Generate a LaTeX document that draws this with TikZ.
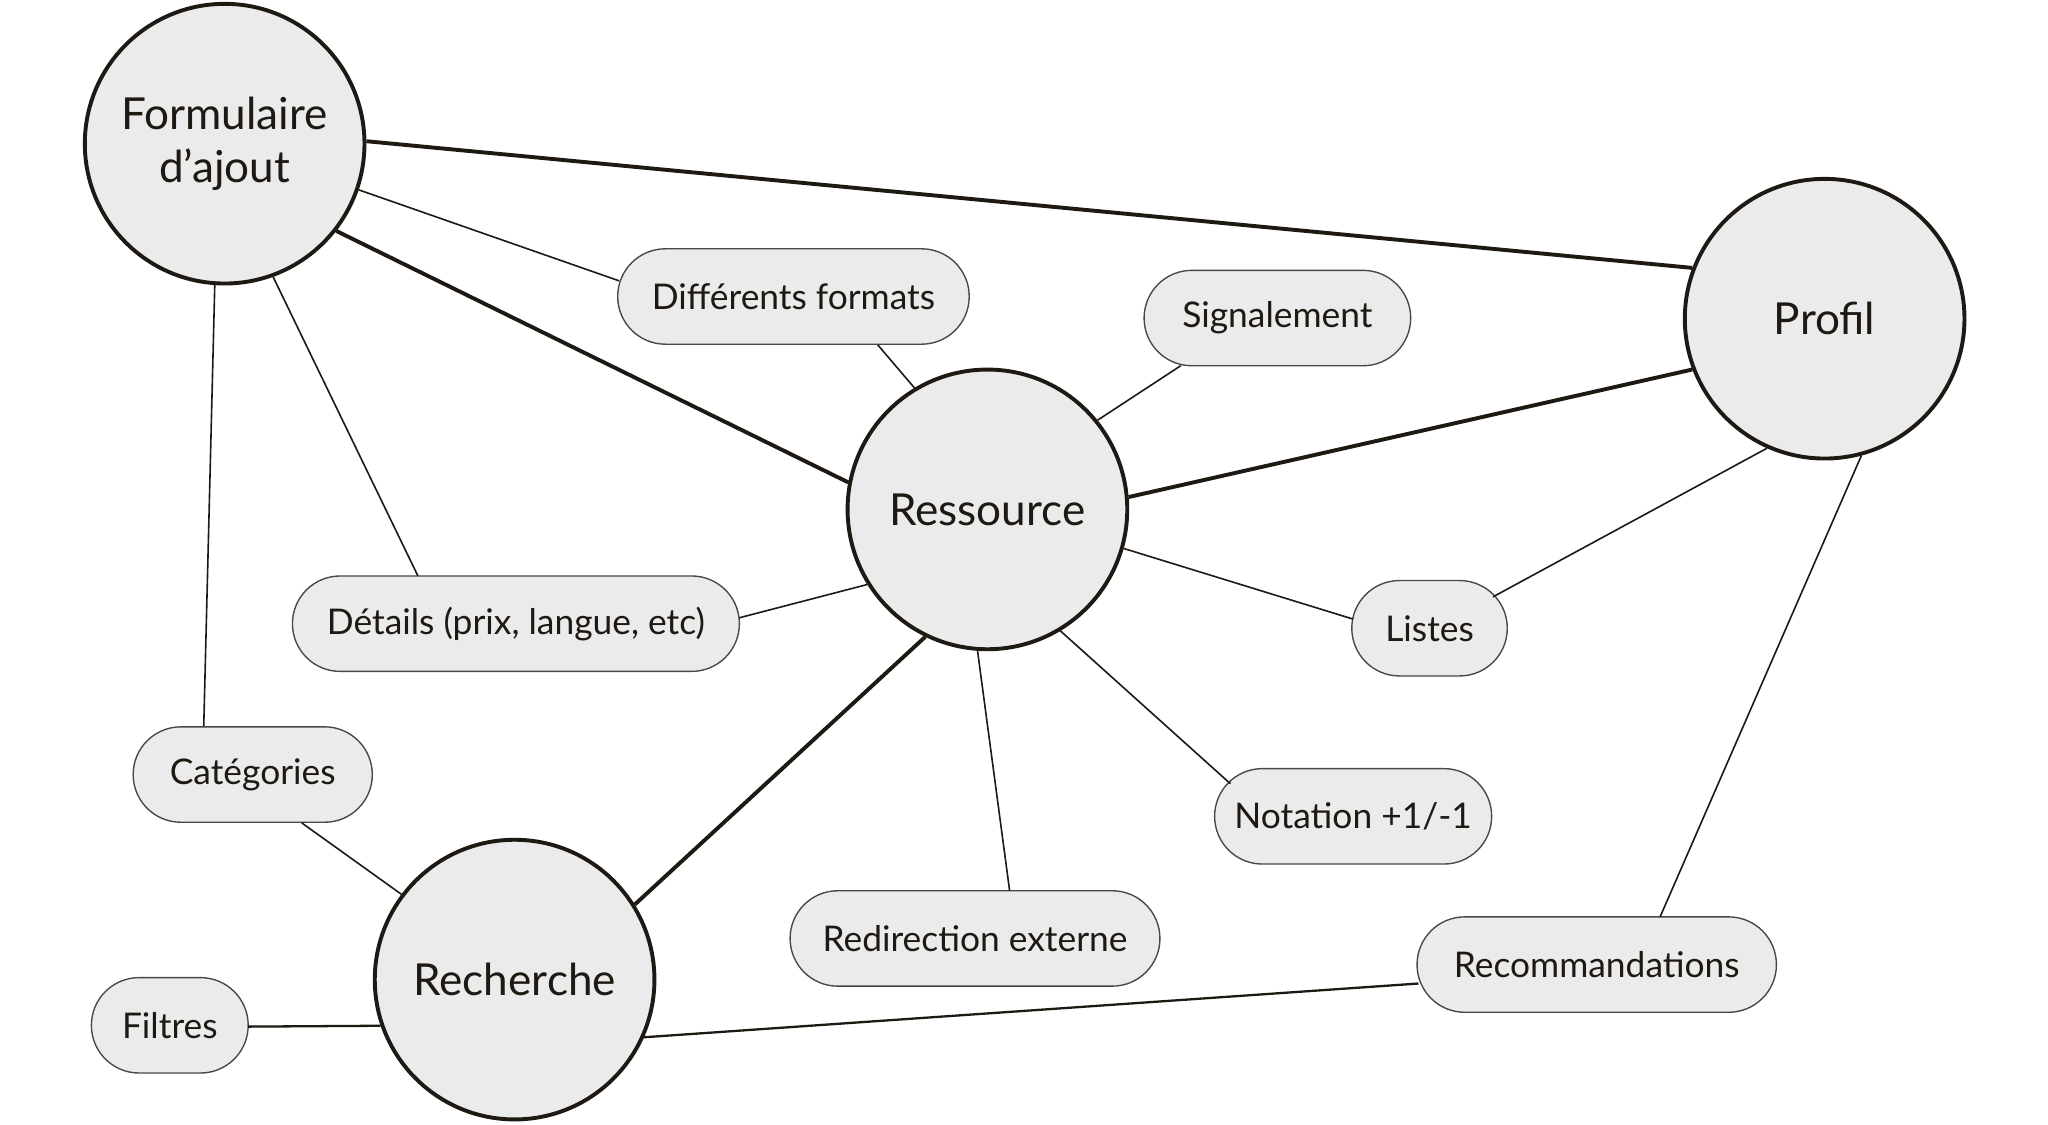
\documentclass[tikz,border=0pt]{standalone}
\usepackage{fontspec}
\setmainfont{Lato}
\usetikzlibrary{calc}
\definecolor{ink}{HTML}{1E1912}
\definecolor{bub}{HTML}{EBEBEB}
\begin{document}
\begin{tikzpicture}[x=0.01cm,y=-0.01cm,
  big/.style={circle,draw=ink,fill=bub,line width=0.85pt,minimum size=2.14cm,inner sep=0pt,
    font=\fontsize{9.6}{11.7}\selectfont,text=ink,align=center},
  pill/.style={rectangle,rounded corners=0.365cm,draw=ink!80,fill=bub,line width=0.3pt,
    minimum height=0.73cm,inner sep=0pt,font=\fontsize{7.7}{9}\selectfont,text=ink},
  heavy/.style={draw=ink,line width=0.85pt},
  light/.style={draw=ink,line width=0.35pt},
  medium/.style={draw=ink,line width=0.5pt}]
\useasboundingbox (0,0) rectangle (1568,860.6);
% circles
\node[big] (F) at (172,110) {Formulaire\\d’ajout};
\node[big] (P) at (1397,244) {Profil};
\node[big] (R) at (756,390) {Ressource};
\node[big] (S) at (394,750) {Recherche};
% pills
\node[pill,minimum width=2.69cm] (DF) at (607.5,227) {Différents formats};
\node[pill,minimum width=2.04cm] (SG) at (978,243.5) {Signalement};
\node[pill,minimum width=3.42cm] (DT) at (395,477.5) {Détails (prix, langue, etc)};
\node[pill,minimum width=1.19cm] (LI) at (1094.5,481) {Listes};
\node[pill,minimum width=1.83cm] (CA) at (193.5,593) {Catégories};
\node[pill,minimum width=2.12cm] (NO) at (1036,625) {Notation +1/-1};
\node[pill,minimum width=2.83cm] (RE) at (746.5,718.5) {Redirection externe};
\node[pill,minimum width=1.20cm] (FI) at (130,785) {Filtres};
\node[pill,minimum width=2.75cm] (RC) at (1222.5,738.5) {Recommandations};
% heavy links
\draw[heavy] (F.1.6) -- (P.159.7);
\draw[heavy] (F.-38.7) -- (R.169.1);
\draw[heavy] (R.5.9) -- (P.-159.7);
\draw[heavy] (R.-116.8) -- (S.32.3);
% light links
\draw[light] (F.-19.4) -- ($(DF.center)+(-133.5,-12)$);
\draw[light] ($(DF.center)+(64.5,37)$) -- (R.121.1);
\draw[light] (F.-70.6) -- ($(DT.center)+(-75,-36.5)$);
\draw[light] (F.-94.3) -- ($(CA.center)+(-37.5,-37)$);
\draw[light] ($(SG.center)+(-74,36.5)$) -- (R.39.8);
\draw[light] ($(DT.center)+(171,-4.5)$) -- (R.-148.1);
\draw[light] (R.-16.6) -- ($(LI.center)+(-58.5,-7)$);
\draw[light] ($(LI.center)+(48.5,-24)$) -- (P.-114.9);
\draw[light] (R.-59.4) -- ($(NO.center)+(-94,-25)$);
\draw[light] (R.-94.3) -- ($(RE.center)+(26.5,-36.5)$);
\draw[light] (P.-75.3) -- ($(RC.center)+(48.5,-36.5)$);
\draw[light] ($(CA.center)+(37.5,37)$) -- (S.143);
\draw[medium] ($(FI.center)+(60,1)$) -- (S.-161.6);
\draw[medium] (S.-24.7) -- ($(RC.center)+(-136.5,14.5)$);
\end{tikzpicture}
\end{document}
